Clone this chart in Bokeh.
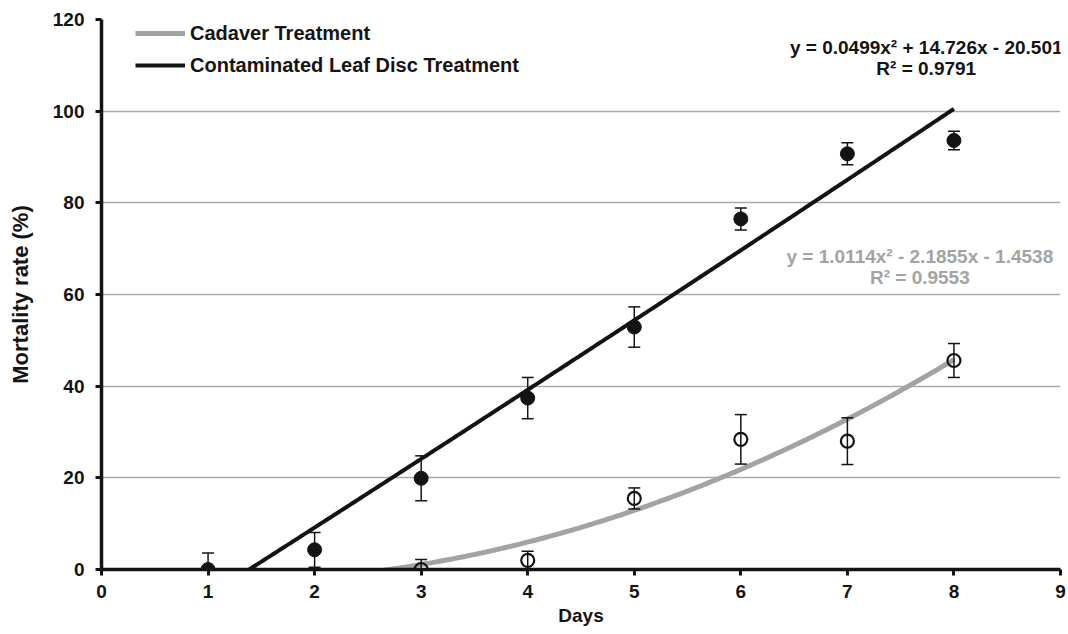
import numpy as np
from bokeh.plotting import figure
from bokeh.models import (ColumnDataSource, Whisker, TeeHead, Label, Legend, LegendItem,
                          FixedTicker, Range1d)
from bokeh.embed import file_html
from bokeh.resources import INLINE

# ---- data ----
leaf_days = [1, 2, 3, 4, 5, 6, 7, 8]
leaf_mean = [0.0, 4.3, 19.9, 37.4, 52.9, 76.5, 90.7, 93.6]
leaf_err = [3.6, 3.8, 4.9, 4.5, 4.4, 2.4, 2.4, 2.0]

cad_days = [3, 4, 5, 6, 7, 8]
cad_mean = [0.0, 2.0, 15.5, 28.4, 28.0, 45.6]
cad_err = [2.2, 2.0, 2.3, 5.4, 5.1, 3.7]

leaf_fit = [0.0499, 14.726, -20.501]
cad_fit = [1.0114, -2.1855, -1.4538]
leaf_eq = ["y = 0.0499x\u00b2 + 14.726x - 20.501", "R\u00b2 = 0.9791"]
cad_eq = ["y = 1.0114x\u00b2 - 2.1855x - 1.4538", "R\u00b2 = 0.9553"]

x_ticks = [0, 1, 2, 3, 4, 5, 6, 7, 8, 9]
y_ticks = [0, 20, 40, 60, 80, 100, 120]

FONT = "Liberation Sans"
BLACK = "#141414"
GRAY = "#a3a3a3"

p = figure(width=1068, height=634, output_backend="svg", toolbar_location=None,
           x_range=Range1d(0, 9), y_range=Range1d(0, 120),
           min_border_left=101, min_border_right=8, min_border_top=19, min_border_bottom=65)
p.outline_line_color = None
p.background_fill_color = "white"
p.border_fill_color = "white"
p.xgrid.visible = False
p.ygrid.grid_line_color = "#ababab"
p.ygrid.grid_line_width = 1.3

for ax in (p.xaxis[0], p.yaxis[0]):
    ax.axis_line_color = BLACK
    ax.axis_line_width = 3.5
    ax.major_tick_line_color = BLACK
    ax.major_tick_line_width = 3
    ax.major_tick_out = 6
    ax.major_tick_in = 0
    ax.minor_tick_line_color = None
    ax.major_label_text_font = FONT
    ax.major_label_text_font_style = "bold"
    ax.major_label_text_font_size = "19px"
    ax.major_label_text_color = BLACK
    ax.axis_label_text_font = FONT
    ax.axis_label_text_font_style = "bold"
    ax.axis_label_text_color = BLACK

p.xaxis.axis_label_text_font_size = "19px"
p.yaxis.axis_label_text_font_size = "22px"
p.xaxis.ticker = FixedTicker(ticks=x_ticks)
p.yaxis.ticker = FixedTicker(ticks=y_ticks)
p.xaxis.major_label_standoff = 9
p.yaxis.major_label_standoff = 11
p.xaxis.axis_label = "Days"
p.yaxis.axis_label = "Mortality rate (%)"
p.xaxis.axis_label_standoff = 4
p.yaxis.axis_label_standoff = 17

# ---- error bars ----
leaf_src = ColumnDataSource(dict(
    x=leaf_days, y=leaf_mean,
    upper=[m + e for m, e in zip(leaf_mean, leaf_err)],
    lower=[max(m - e, 0) for m, e in zip(leaf_mean, leaf_err)]))
cad_src = ColumnDataSource(dict(
    x=cad_days, y=cad_mean,
    upper=[m + e for m, e in zip(cad_mean, cad_err)],
    lower=[max(m - e, 0) for m, e in zip(cad_mean, cad_err)]))

for src in (leaf_src, cad_src):
    w = Whisker(source=src, base="x", upper="upper", lower="lower",
                line_color=BLACK, line_width=1.5, level="glyph",
                upper_head=TeeHead(size=12, line_color=BLACK, line_width=1.5),
                lower_head=TeeHead(size=12, line_color=BLACK, line_width=1.5))
    p.add_layout(w)

# ---- trend lines ----
xs = np.linspace(0, 8, 300)
leaf_line = p.line(xs, np.polyval(leaf_fit, xs), line_color=BLACK, line_width=4)
cad_line = p.line(xs, np.polyval(cad_fit, xs), line_color=GRAY, line_width=5)

# ---- markers ----
p.scatter("x", "y", source=leaf_src, size=14, marker="circle",
          fill_color=BLACK, line_color=BLACK)
p.scatter("x", "y", source=cad_src, size=13, marker="circle",
          fill_color=None, line_color=BLACK, line_width=2.2)

# ---- equations ----
for txt, yv in zip(leaf_eq, [113.9, 109.4]):
    p.add_layout(Label(x=7.74, y=yv, text=txt, text_align="center", text_baseline="middle",
                       text_font=FONT, text_font_style="bold", text_font_size="19px",
                       text_color=BLACK))
for txt, yv in zip(cad_eq, [68.2, 63.7]):
    p.add_layout(Label(x=7.68, y=yv, text=txt, text_align="center", text_baseline="middle",
                       text_font=FONT, text_font_style="bold", text_font_size="19px",
                       text_color=GRAY))

# ---- legend ----
legend = Legend(items=[LegendItem(label="Cadaver Treatment", renderers=[cad_line]),
                       LegendItem(label="Contaminated Leaf Disc Treatment", renderers=[leaf_line])],
                location=(34, 492), glyph_width=50, glyph_height=24, label_height=24,
                spacing=8, padding=0, margin=0, border_line_color=None,
                background_fill_alpha=0, label_standoff=5,
                label_text_font=FONT, label_text_font_style="bold",
                label_text_font_size="20px", label_text_color=BLACK)
p.add_layout(legend)

open("out.html", "w").write(file_html(p, INLINE))
